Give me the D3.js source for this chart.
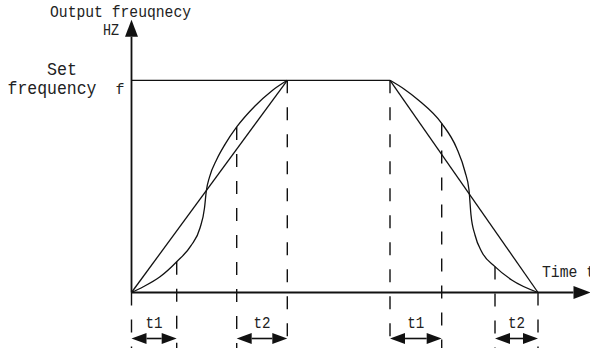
<!DOCTYPE html>
<html>
<head>
<meta charset="utf-8">
<script src="https://cdn.jsdelivr.net/npm/d3@7/dist/d3.min.js"></script>
<style>
  html, body { margin: 0; padding: 0; background: #fff; }
  svg { display: block; }
  text { font-family: "Liberation Mono", "DejaVu Sans Mono", monospace; fill: #222; }
</style>
</head>
<body>
<svg id="chart" width="590" height="353"></svg>
<script>
// ---- data (time in arbitrary units, frequency relative to set frequency f = 1) ----
const setFrequency = 1;
const yAxisTop = 1.285;
const xAxisEnd = 459;

// S-curve acceleration
const accelTime = [0, 11.8, 28.5, 45.2, 59.5, 68.5, 73.0, 74.8, 78.0, 85.2, 93.5, 105.2, 123.5, 140.2, 155.8];
const accelFreq = [0, 0.027, 0.074, 0.145, 0.221, 0.304, 0.398, 0.478, 0.544, 0.627, 0.698, 0.780, 0.879, 0.950, 1];

// S-curve deceleration
const decelTime = [258.5, 272.5, 286.8, 310.2, 325.2, 333.5, 337.5, 339.5, 343.5, 350.2, 363.5, 380.2, 406.5];
const decelFreq = [1, 0.959, 0.907, 0.797, 0.680, 0.569, 0.483, 0.365, 0.271, 0.192, 0.122, 0.059, 0];

// Linear ramps
const linearUpTime = [0, 155.8];
const linearUpFreq = [0, 1];
const linearDownTime = [258.5, 406.5];
const linearDownFreq = [1, 0];

// Set frequency line
const setLineTime = [0, 258.5];

// Vertical dashed guides: time, frequency where guide starts
const guideTime = [0, 45.2, 105.2, 155.8, 258.5, 310.2, 363.5, 406.5];
const guideFreq = [0, 0.145, 0.780, 1, 1, 0.797, 0.122, 0];

// Interval arrows
const intervalLabels = ["t1", "t2", "t1", "t2"];
const intervalStart = [0, 105.2, 258.5, 363.5];
const intervalEnd = [45.2, 155.8, 310.2, 406.5];

// Texts
const yTitle = "Output freuqnecy";
const yUnit = "HZ";
const xTitle = "Time t";
const setLabel1 = "Set";
const setLabel2 = "frequency";
const fLabel = "f";

// ---- drawing ----
const svg = d3.select("#chart");
const x = d3.scaleLinear().domain([0, xAxisEnd]).range([131.5, 590.5]);
const y = d3.scaleLinear().domain([0, setFrequency]).range([292.5, 80.3]);

const ink = "#111";
const line = d3.line().x(d => x(d[0])).y(d => y(d[1]));
const curve = d3.line().x(d => x(d[0])).y(d => y(d[1])).curve(d3.curveMonotoneX);

// dashed guides
const guideBottom = 348;
guideTime.forEach((t, i) => {
  svg.append("line")
    .attr("x1", x(t)).attr("x2", x(t))
    .attr("y1", y(guideFreq[i])).attr("y2", guideBottom)
    .attr("stroke", ink).attr("stroke-width", 1.4)
    .attr("stroke-dasharray", "13,14");
});

// set frequency line
svg.append("path")
  .attr("d", line(setLineTime.map(t => [t, setFrequency])))
  .attr("fill", "none").attr("stroke", ink).attr("stroke-width", 1.3);

// linear ramps
svg.append("path").attr("d", line(linearUpTime.map((t, i) => [t, linearUpFreq[i]])))
  .attr("fill", "none").attr("stroke", ink).attr("stroke-width", 1.3);
svg.append("path").attr("d", line(linearDownTime.map((t, i) => [t, linearDownFreq[i]])))
  .attr("fill", "none").attr("stroke", ink).attr("stroke-width", 1.3);

// S curves
svg.append("path").attr("d", curve(accelTime.map((t, i) => [t, accelFreq[i]])))
  .attr("fill", "none").attr("stroke", ink).attr("stroke-width", 1.3);
svg.append("path").attr("d", curve(decelTime.map((t, i) => [t, decelFreq[i]])))
  .attr("fill", "none").attr("stroke", ink).attr("stroke-width", 1.3);

// axes
const ox = x(0), oy = y(0);
const yTip = y(yAxisTop);
const xTip = x(xAxisEnd);
const headLen = 17, headHalf = 6.5;
svg.append("line").attr("x1", ox).attr("x2", ox).attr("y1", oy).attr("y2", yTip + headLen)
  .attr("stroke", ink).attr("stroke-width", 1.8);
svg.append("path")
  .attr("d", `M${ox},${yTip} L${ox - headHalf},${yTip + headLen} L${ox + headHalf},${yTip + headLen} Z`)
  .attr("fill", ink);
svg.append("line").attr("x1", ox).attr("x2", xTip - headLen).attr("y1", oy).attr("y2", oy)
  .attr("stroke", ink).attr("stroke-width", 1.8);
svg.append("path")
  .attr("d", `M${xTip},${oy} L${xTip - headLen},${oy - headHalf} L${xTip - headLen},${oy + headHalf} Z`)
  .attr("fill", ink);

// interval arrows
const arrowY = 338.5, aLen = 15, aHalf = 5.5;
function label(txt, px, py, size, width, anchor) {
  const t = svg.append("text").attr("x", px).attr("y", py)
    .attr("font-size", size).attr("text-anchor", anchor || "start").text(txt);
  if (width) t.attr("textLength", width).attr("lengthAdjust", "spacingAndGlyphs");
  return t;
}
intervalLabels.forEach((lab, i) => {
  const a = x(intervalStart[i]), b = x(intervalEnd[i]);
  svg.append("line").attr("x1", a + aLen).attr("x2", b - aLen).attr("y1", arrowY).attr("y2", arrowY)
    .attr("stroke", ink).attr("stroke-width", 1.6);
  svg.append("path")
    .attr("d", `M${a},${arrowY} L${a + aLen},${arrowY - aHalf} L${a + aLen},${arrowY + aHalf} Z`)
    .attr("fill", ink);
  svg.append("path")
    .attr("d", `M${b},${arrowY} L${b - aLen},${arrowY - aHalf} L${b - aLen},${arrowY + aHalf} Z`)
    .attr("fill", ink);
  label(lab, (a + b) / 2, 328, 16, 17, "middle");
});

// texts
label(yTitle, 50, 17, 16, 141);
label(yUnit, 119, 35, 16, 16, "end");
label(xTitle, 542, 277, 16, 53);
label(setLabel1, 62, 75, 18, 30, "middle");
label(setLabel2, 52, 94, 18, 89, "middle");
label(fLabel, 120, 94, 15, null, "middle");
</script>
</body>
</html>
